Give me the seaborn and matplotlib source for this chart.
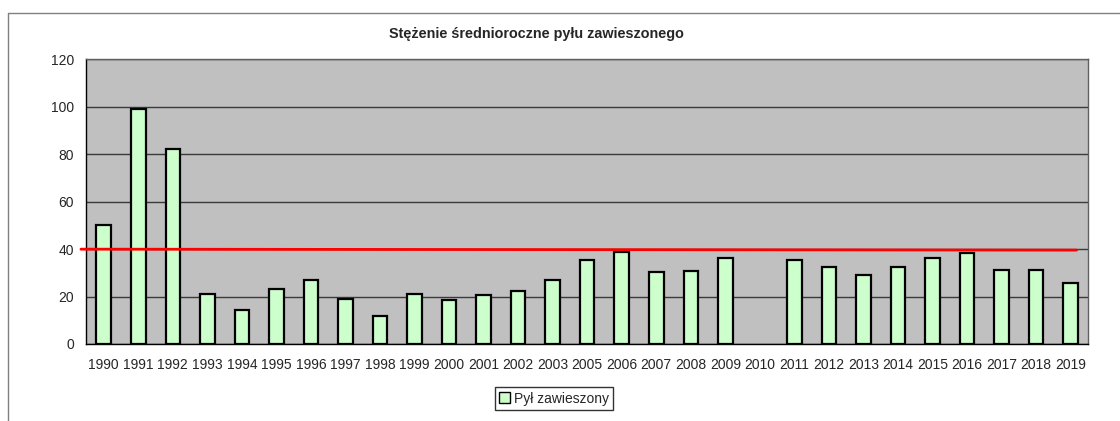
import numpy as np
import pandas as pd
import matplotlib
matplotlib.use('Agg')
import matplotlib.pyplot as plt
from matplotlib.lines import Line2D
from matplotlib.patches import Patch
import seaborn as sns

# dane
years = ['1990', '1991', '1992', '1993', '1994', '1995', '1996', '1997', '1998', '1999',
         '2000', '2001', '2002', '2003', '2005', '2006', '2007', '2008', '2009', '2010',
         '2011', '2012', '2013', '2014', '2015', '2016', '2017', '2018', '2019']
pyl = [50.2, 99.3, 82.3, 21.2, 14.2, 23.3, 27.1, 19.1, 11.9, 21.2,
       18.7, 20.5, 22.4, 27.1, 35.3, 38.9, 30.2, 30.7, 36.4, np.nan,
       35.3, 32.4, 29.2, 32.4, 36.3, 38.3, 31.4, 31.4, 25.9]
norma = [40.0, 39.6]
yticks = [0, 20, 40, 60, 80, 100, 120]

df = pd.DataFrame({'rok': years, 'pyl': pyl})

sns.set_style('white')
plt.rcParams['font.family'] = ['Liberation Sans', 'DejaVu Sans']

fig, ax = plt.subplots(figsize=(11.2, 4.21), dpi=100)
fig.subplots_adjust(left=0.0772, right=0.9714, top=0.8587, bottom=0.1829)

sns.barplot(data=df, x='rok', y='pyl', order=years, color='#CCFFCC',
            saturation=1, width=0.42, edgecolor='black', linewidth=1.6, ax=ax, zorder=3)

n = len(years)
ax.plot([-0.66, n - 0.83], norma, color='#FF0000', linewidth=2, zorder=4, clip_on=False)

ax.set_facecolor('#C0C0C0')
ax.set_xlim(-0.5, n - 0.5)
ax.set_ylim(0, 120)
ax.set_yticks(yticks)
ax.yaxis.grid(True, color='#3a3a3a', linewidth=1)
ax.set_axisbelow(True)
ax.set_xlabel('')
ax.set_ylabel('')

ax.tick_params(axis='x', which='major', length=0, labelsize=10, pad=10)
ax.set_xticks(np.arange(n + 1) - 0.5, minor=True)
ax.tick_params(axis='x', which='minor', length=6, width=1, color='black', direction='out')
ax.tick_params(axis='y', length=6, width=1, color='black', direction='out', labelsize=10, pad=3)

for s in ['left', 'bottom']:
    ax.spines[s].set_color('black')
    ax.spines[s].set_linewidth(1)
for s in ['top', 'right']:
    ax.spines[s].set_color('#606060')
    ax.spines[s].set_linewidth(1)

fig.text(536 / 1120, 1 - 34 / 421, 'Stężenie średnioroczne pyłu zawieszonego',
         ha='center', va='center', fontsize=10.4, fontweight='bold')

handles = [Patch(facecolor='#CCFFCC', edgecolor='black', linewidth=1)]
fig.legend(handles, ['Pył zawieszony'], loc='center', bbox_to_anchor=(554 / 1120, 1 - 398.5 / 421),
           frameon=True, fancybox=False, edgecolor='black', fontsize=10,
           handlelength=0.8, handleheight=0.8, handletextpad=0.3, borderpad=0.3)

# ramka wykresu
fig.add_artist(Line2D([8 / 1120, 8 / 1120], [1 - 13 / 421, 0], color='#808080', linewidth=1))
fig.add_artist(Line2D([8 / 1120, 1], [1 - 13 / 421, 1 - 13 / 421], color='#808080', linewidth=1))

fig.savefig('out.png', dpi=100)
